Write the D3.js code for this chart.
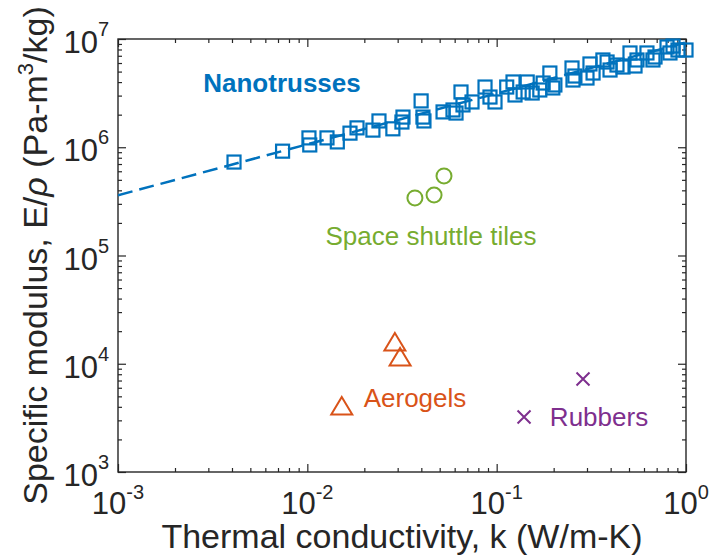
<!DOCTYPE html>
<html>
<head>
<meta charset="utf-8">
<script src="https://cdn.jsdelivr.net/npm/d3@7"></script>
<style>
body { margin: 0; background: #fff; }
svg { font-family: "Liberation Sans", Arial, Helvetica, sans-serif; }
</style>
</head>
<body>
<div id="chart"></div>
<script>
// Nanotrusses: thermal conductivity k (W/m-K) and specific modulus (Pa-m^3/kg)
var nanoK = [0.0041, 0.0074, 0.0102, 0.0103, 0.0127, 0.0144, 0.0168, 0.0183, 0.0222, 0.0239,
    0.0283, 0.0316, 0.0320, 0.0399, 0.0408, 0.0413, 0.0521, 0.0588, 0.0610, 0.0648,
    0.0664, 0.0741, 0.0868, 0.0922, 0.0980, 0.113, 0.122, 0.125, 0.138, 0.145,
    0.154, 0.169, 0.176, 0.191, 0.198, 0.203, 0.250, 0.253, 0.259, 0.300,
    0.311, 0.323, 0.364, 0.383, 0.397, 0.432, 0.465, 0.506, 0.538, 0.551,
    0.622, 0.669, 0.686, 0.794, 0.823, 0.854, 0.907, 1.0];
var nanoE = [7.3e5, 9.2e5, 1.22e6, 1.05e6, 1.22e6, 1.12e6, 1.35e6, 1.51e6, 1.44e6, 1.75e6,
    1.48e6, 1.71e6, 1.90e6, 2.68e6, 1.90e6, 1.75e6, 2.12e6, 2.21e6, 2.07e6, 3.24e6,
    2.46e6, 2.62e6, 3.60e6, 2.91e6, 2.62e6, 3.60e6, 4.01e6, 3.04e6, 3.24e6, 4.01e6,
    3.17e6, 3.38e6, 3.92e6, 4.85e6, 3.53e6, 3.76e6, 5.40e6, 4.18e6, 4.55e6, 4.36e6,
    5.88e6, 4.85e6, 6.40e6, 6.13e6, 5.17e6, 5.75e6, 5.51e6, 7.43e6, 5.63e6, 6.40e6,
    7.43e6, 6.40e6, 6.82e6, 8.44e6, 7.43e6, 8.62e6, 7.91e6, 7.91e6];

// power-law fit through the nanotrusses (end points)
var fitK = [0.001, 1];
var fitE = [3.6e5, 9.3e6];

var tileK = [0.0370, 0.0467, 0.0527];
var tileE = [3.40e5, 3.62e5, 5.43e5];

var aeroK = [0.0152, 0.0290, 0.0309];
var aeroE = [4070, 1.59e4, 1.155e4];

var rubK = [0.1395, 0.2858];
var rubE = [3220, 7230];

var xTickVals = [1e-3, 1e-2, 1e-1, 1];
var xTickExp = ["-3", "-2", "-1", "0"];
var yTickVals = [1e3, 1e4, 1e5, 1e6, 1e7];
var yTickExp = ["3", "4", "5", "6", "7"];

var width = 712, height = 560;
var plotL = 118, plotR = 686, plotT = 39, plotB = 472;
var axisColor = "#262626";

var svg = d3.select("#chart").append("svg")
    .attr("width", width)
    .attr("height", height);

var x = d3.scaleLog().domain([1e-3, 1]).range([plotL, plotR]);
var y = d3.scaleLog().domain([1e3, 1e7]).range([plotB, plotT]);

var xMinor = x.ticks().filter(function(d){ return xTickVals.indexOf(d) < 0; });
var yMinor = y.ticks().filter(function(d){ return yTickVals.indexOf(d) < 0; });

// clip for the fit line
svg.append("clipPath").attr("id", "plotClip")
    .append("rect")
    .attr("x", plotL).attr("y", plotT)
    .attr("width", plotR - plotL).attr("height", plotB - plotT);

// ticks on all four sides, pointing inward
function drawTicks(axisFn, scale, vals, size, transform){
    var g = svg.append("g")
        .attr("transform", transform)
        .call(axisFn(scale).tickValues(vals).tickSize(-size).tickSizeOuter(0).tickFormat(""));
    g.select(".domain").remove();
    g.selectAll("line").attr("stroke", axisColor).attr("stroke-width", 1.2);
}
drawTicks(d3.axisBottom, x, xTickVals, 8, "translate(0," + plotB + ")");
drawTicks(d3.axisBottom, x, xMinor, 4, "translate(0," + plotB + ")");
drawTicks(d3.axisTop, x, xTickVals, 8, "translate(0," + plotT + ")");
drawTicks(d3.axisTop, x, xMinor, 4, "translate(0," + plotT + ")");
drawTicks(d3.axisLeft, y, yTickVals, 8, "translate(" + plotL + ",0)");
drawTicks(d3.axisLeft, y, yMinor, 4, "translate(" + plotL + ",0)");
drawTicks(d3.axisRight, y, yTickVals, 8, "translate(" + plotR + ",0)");
drawTicks(d3.axisRight, y, yMinor, 4, "translate(" + plotR + ",0)");

svg.append("rect")
    .attr("x", plotL).attr("y", plotT)
    .attr("width", plotR - plotL).attr("height", plotB - plotT)
    .attr("fill", "none")
    .attr("stroke", axisColor)
    .attr("stroke-width", 1.4);

// tick labels with superscript exponents
var xLab = svg.append("g").selectAll("text").data(xTickVals).enter()
    .append("text")
    .attr("x", function(d){ return x(d); })
    .attr("y", plotB + 42)
    .attr("text-anchor", "middle")
    .attr("fill", axisColor)
    .attr("font-size", 31);
xLab.append("tspan").text("10");
xLab.append("tspan").attr("dy", -15).attr("font-size", 20)
    .text(function(d, i){ return xTickExp[i]; });

var yLab = svg.append("g").selectAll("text").data(yTickVals).enter()
    .append("text")
    .attr("x", 109)
    .attr("y", function(d){ return y(d) + 14; })
    .attr("text-anchor", "end")
    .attr("fill", axisColor)
    .attr("font-size", 31);
yLab.append("tspan").text("10");
yLab.append("tspan").attr("dy", -17).attr("font-size", 20)
    .text(function(d, i){ return yTickExp[i]; });

// axis titles
svg.append("text")
    .attr("x", (plotL + plotR) / 2)
    .attr("y", 548)
    .attr("text-anchor", "middle")
    .attr("fill", axisColor)
    .attr("font-size", 34)
    .text("Thermal conductivity, k (W/m-K)");

var yTitle = svg.append("text")
    .attr("transform", "translate(47," + (plotT + plotB) / 2 + ") rotate(-90)")
    .attr("text-anchor", "middle")
    .attr("fill", axisColor)
    .attr("font-size", 34);
yTitle.append("tspan").text("Specific modulus, E/");
yTitle.append("tspan").attr("font-style", "italic").text("ρ");
yTitle.append("tspan").text(" (Pa-m");
yTitle.append("tspan").attr("dy", -14).attr("font-size", 22).text("3");
yTitle.append("tspan").attr("dy", 14).text("/kg)");

// fit line
var fitData = fitK.map(function(k, i){ return [k, fitE[i]]; });
svg.append("path")
    .datum(fitData)
    .attr("clip-path", "url(#plotClip)")
    .attr("d", d3.line().x(function(d){ return x(d[0]); }).y(function(d){ return y(d[1]); }))
    .attr("fill", "none")
    .attr("stroke", "#0072BD")
    .attr("stroke-width", 2.5)
    .attr("stroke-dasharray", "15,7");

// nanotrusses (squares)
var sq = 13;
svg.append("g").selectAll("rect").data(nanoK).enter()
    .append("rect")
    .attr("x", function(d){ return x(d) - sq / 2; })
    .attr("y", function(d, i){ return y(nanoE[i]) - sq / 2; })
    .attr("width", sq).attr("height", sq)
    .attr("fill", "none")
    .attr("stroke", "#0072BD")
    .attr("stroke-width", 2.2);

// space shuttle tiles (circles)
svg.append("g").selectAll("circle").data(tileK).enter()
    .append("circle")
    .attr("cx", function(d){ return x(d); })
    .attr("cy", function(d, i){ return y(tileE[i]); })
    .attr("r", 7.5)
    .attr("fill", "none")
    .attr("stroke", "#77AC30")
    .attr("stroke-width", 2);

// aerogels (triangles)
svg.append("g").selectAll("path").data(aeroK).enter()
    .append("path")
    .attr("d", function(d, i){
        var cx = x(d), cy = y(aeroE[i]);
        return "M" + cx + "," + (cy - 9) + "L" + (cx + 10.5) + "," + (cy + 8.5) +
            "L" + (cx - 10.5) + "," + (cy + 8.5) + "Z";
    })
    .attr("fill", "none")
    .attr("stroke", "#D95319")
    .attr("stroke-width", 2);

// rubbers (crosses)
svg.append("g").selectAll("path").data(rubK).enter()
    .append("path")
    .attr("d", function(d, i){
        var cx = x(d), cy = y(rubE[i]), h = 6.5;
        return "M" + (cx - h) + "," + (cy - h) + "L" + (cx + h) + "," + (cy + h) +
            "M" + (cx - h) + "," + (cy + h) + "L" + (cx + h) + "," + (cy - h);
    })
    .attr("fill", "none")
    .attr("stroke", "#7E2F8E")
    .attr("stroke-width", 2);

// series labels
function label(txt, lx, ly, color, bold){
    svg.append("text")
        .attr("x", lx).attr("y", ly)
        .attr("text-anchor", "middle")
        .attr("font-size", 26)
        .attr("font-weight", bold ? "bold" : "normal")
        .attr("fill", color)
        .text(txt);
}
label("Nanotrusses", 282, 92, "#0072BD", true);
label("Space shuttle tiles", 431, 245, "#77AC30", false);
label("Aerogels", 415, 407, "#D95319", false);
label("Rubbers", 599, 426, "#7E2F8E", false);
</script>
</body>
</html>
